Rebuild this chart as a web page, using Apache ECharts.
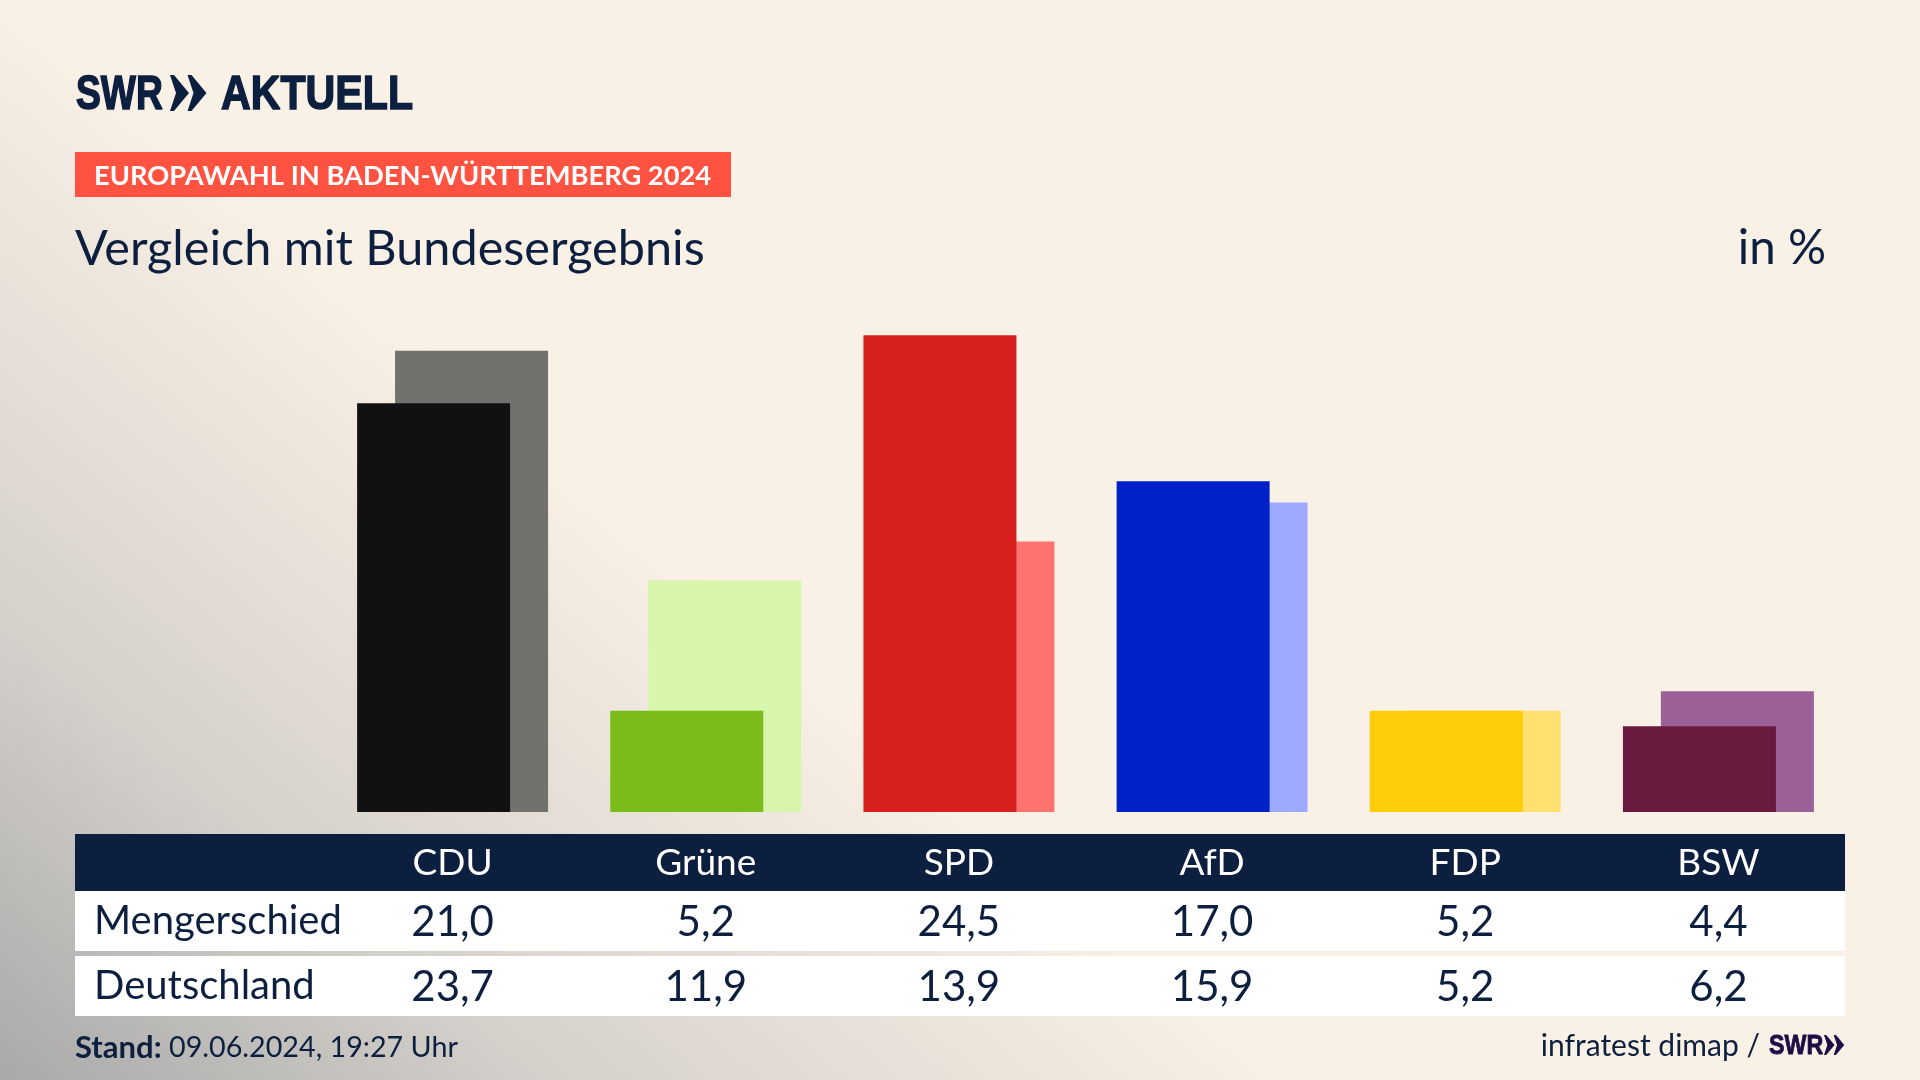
<!DOCTYPE html>
<html lang="de">
<head>
<meta charset="UTF-8">
<title>Europawahl in Baden-Württemberg 2024</title>
<script src="https://cdn.jsdelivr.net/npm/echarts@6/dist/echarts.min.js"></script>
<style>
    html, body { margin: 0; padding: 0; }
    #chart {
        width: 1920px;
        height: 1080px;
        background: linear-gradient(220deg, #faf1e6 0%, #faf1e6 59%, #d4d0ca 83%, #a9a9a9 100%);
    }
</style>
</head>
<body>
<div id="chart"></div>
<script>
var parties = ['CDU', 'Grüne', 'SPD', 'AfD', 'FDP', 'BSW'];
var mengerschied = [21.0, 5.2, 24.5, 17.0, 5.2, 4.4];
var deutschland = [23.7, 11.9, 13.9, 15.9, 5.2, 6.2];
var frontColors = ['#111111', '#7abd18', '#d7201e', '#0021c8', '#ffcd0a', '#6a1a3e'];
var backColors = ['#73716e', '#d7f5ab', '#ff736e', '#9daaff', '#ffe070', '#9a6097'];

var NAVY = '#0c1f3f';
var FONT = 'Lato';
var LOGO_FONT = '"Liberation Sans"';

function fmt(v) {
    return v.toFixed(1).replace('.', ',');
}

// colored bars per party
function barData(values, colors) {
    return values.map(function (v, i) {
        return { value: v, itemStyle: { color: colors[i] } };
    });
}

// table rows are category axes pushed below the grid
function rowAxis(labels, offset, color, size) {
    return {
        type: 'category',
        position: 'bottom',
        offset: offset,
        data: labels,
        axisLine: { show: false },
        axisTick: { show: false },
        axisLabel: {
            interval: 0,
            margin: 0,
            color: color,
            fontFamily: FONT,
            fontSize: size,
            verticalAlign: 'middle'
        }
    };
}

function rect(x, y, w, h, fill) {
    return { type: 'rect', z: -10, shape: { x: x, y: y, width: w, height: h }, style: { fill: fill } };
}

function text(str, x, y, size, fill, weight, align, family) {
    return {
        type: 'text', z: 10, x: x, y: y,
        style: {
            text: str, fill: fill, fontFamily: family || FONT, fontSize: size,
            fontWeight: weight || 'normal', align: align || 'left', verticalAlign: 'middle'
        }
    };
}

// logo lettering is narrower and heavier than any installed bold
function logoText(str, x, y, size, fill, scaleX) {
    var el = text(str, x, y, size, fill, 'bold', 'left', LOGO_FONT);
    el.scaleX = scaleX;
    el.style.stroke = fill;
    el.style.lineWidth = size / 32;
    return el;
}

// the two arrows of the SWR logo
function chevrons(x, y, h, fill) {
    var k = h / 36;
    return [0, 17.5].map(function (dx) {
        var pts = [[0, 0], [4, 0], [19, 18], [4, 36], [0, 36], [6, 18]].map(function (p) {
            return [x + (p[0] + dx) * k, y + p[1] * k];
        });
        return { type: 'polygon', z: 10, shape: { points: pts }, style: { fill: fill } };
    });
}

var chart = echarts.init(document.getElementById('chart'), null, { width: 1920, height: 1080 });

chart.setOption({
    animation: false,
    grid: { left: 326, top: 306, width: 1519, height: 506 },
    xAxis: [
        rowAxis(parties, 51, '#ffffff', 37),
        rowAxis(mengerschied.map(fmt), 110, NAVY, 42),
        rowAxis(deutschland.map(fmt), 175, NAVY, 42)
    ],
    yAxis: { type: 'value', min: 0, max: 26, show: false },
    series: [
        {
            name: 'Mengerschied', type: 'bar', z: 3,
            barWidth: 153, barGap: '-75.2%',
            data: barData(mengerschied, frontColors)
        },
        {
            name: 'Deutschland', type: 'bar', z: 2,
            barWidth: 153,
            data: barData(deutschland, backColors)
        }
    ],
    graphic: [
        rect(75, 152, 656, 45, '#ff5240'),
        rect(75, 834, 1770, 57, NAVY),
        rect(75, 891, 1770, 60, '#ffffff'),
        rect(75, 956, 1770, 60, '#ffffff'),
        logoText('SWR', 76, 95, 49, NAVY, 0.76),
        logoText('AKTUELL', 221, 95, 49, NAVY, 0.84),
        text('EUROPAWAHL IN BADEN-WÜRTTEMBERG 2024', 94, 176, 27.3, '#ffffff', 'bold'),
        text('Vergleich mit Bundesergebnis', 75, 249, 48.6, NAVY),
        text('in %', 1826, 249, 47.5, NAVY, 'normal', 'right'),
        text('Mengerschied', 94, 921, 40, NAVY),
        text('Deutschland', 94, 986, 40, NAVY),
        text('Stand:', 75, 1048, 31, NAVY, 'bold'),
        text('09.06.2024, 19:27 Uhr', 169, 1048, 28.7, NAVY),
        text('infratest dimap /', 1760, 1046, 30, NAVY, 'normal', 'right'),
        logoText('SWR', 1769, 1046, 28, '#1e0d45', 0.83)
    ].concat(chevrons(170, 75, 36, NAVY), chevrons(1824, 1035, 20, '#1e0d45'))
});
</script>
</body>
</html>
